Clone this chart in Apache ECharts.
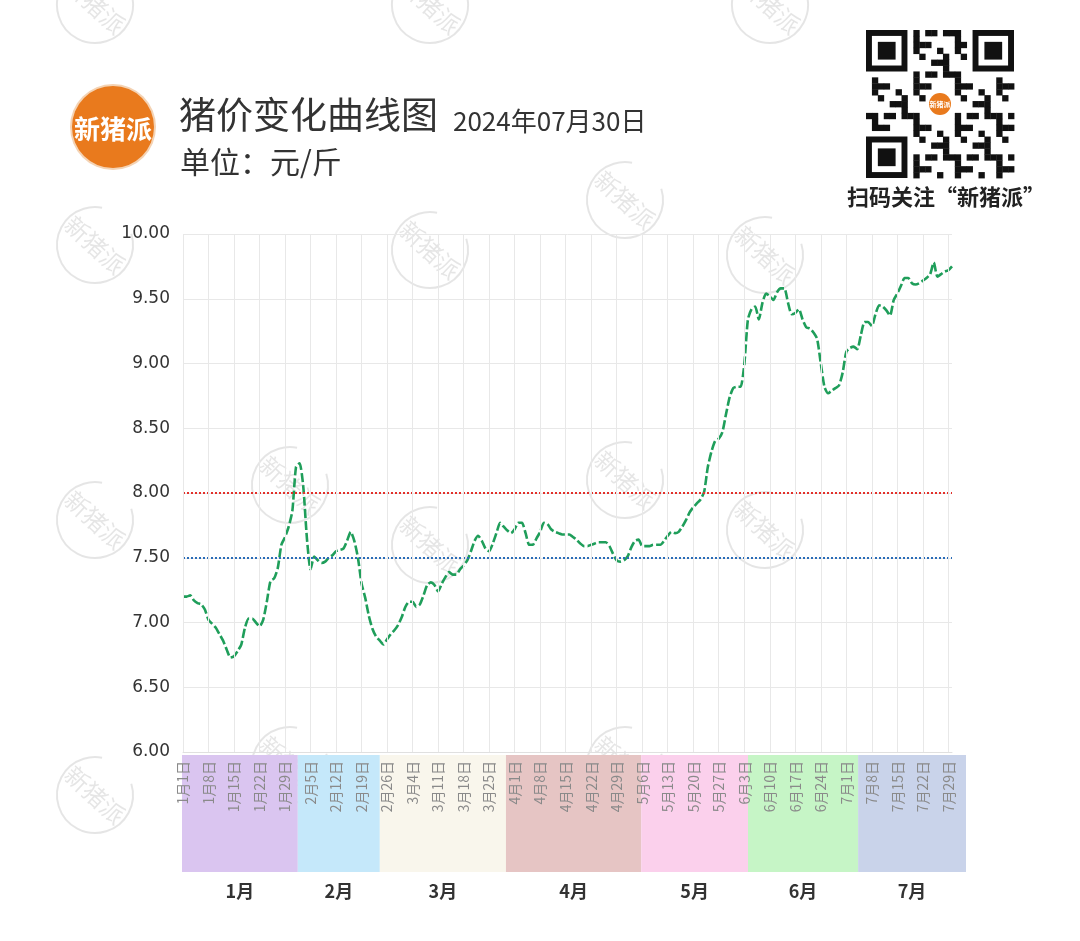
<!DOCTYPE html>
<html>
<head>
<meta charset="utf-8">
<script src="https://cdn.jsdelivr.net/npm/echarts@6/dist/echarts.min.js"></script>
<style>
html,body{margin:0;padding:0;background:#fff;}
#chart{width:1080px;height:941px;}
</style>
</head>
<body>
<div id="chart"></div>
<script>
// ---- data ----
const categories = [];
(function(){
  for (let i = 0; i < 212; i++) {
    const d = new Date(2024, 0, 1 + i);
    categories.push((d.getMonth() + 1) + '月' + d.getDate() + '日');
  }
})();

const prices = [
  7.20,7.20,7.21,7.17,7.15,7.14,7.10,7.02,6.99,6.96,
  6.91,6.86,6.79,6.73,6.74,6.78,6.83,6.96,7.03,7.03,
  7.00,6.97,7.02,7.16,7.32,7.34,7.42,7.60,7.66,7.74,
  7.86,8.20,8.23,8.05,7.65,7.41,7.51,7.48,7.46,7.47,
  7.50,7.52,7.55,7.56,7.57,7.63,7.70,7.63,7.50,7.30,
  7.19,7.05,6.95,6.89,6.86,6.83,6.87,6.91,6.94,6.98,
  7.04,7.12,7.16,7.16,7.12,7.14,7.21,7.29,7.31,7.29,
  7.24,7.30,7.35,7.39,7.37,7.37,7.41,7.44,7.48,7.55,
  7.63,7.67,7.63,7.57,7.55,7.61,7.69,7.77,7.74,7.71,
  7.69,7.72,7.77,7.77,7.69,7.60,7.60,7.65,7.70,7.77,
  7.76,7.72,7.70,7.69,7.68,7.68,7.68,7.66,7.64,7.61,
  7.59,7.59,7.60,7.61,7.62,7.62,7.62,7.59,7.53,7.48,
  7.47,7.48,7.51,7.58,7.63,7.64,7.59,7.59,7.59,7.60,
  7.60,7.60,7.63,7.67,7.70,7.69,7.70,7.74,7.79,7.85,
  7.89,7.92,7.95,8.01,8.20,8.32,8.40,8.42,8.47,8.61,
  8.74,8.81,8.82,8.82,8.99,9.34,9.42,9.44,9.34,9.47,
  9.54,9.52,9.49,9.55,9.58,9.58,9.47,9.38,9.39,9.42,
  9.34,9.28,9.27,9.24,9.19,9.00,8.82,8.77,8.79,8.81,
  8.83,8.93,9.09,9.12,9.13,9.11,9.22,9.32,9.32,9.29,
  9.38,9.45,9.44,9.41,9.37,9.49,9.54,9.60,9.66,9.66,
  9.62,9.61,9.62,9.64,9.66,9.69,9.78,9.67,9.69,9.71,
  9.72,9.75
];

const refLines = [8.0, 7.5];
const refColors = ['#e3302b', '#2a6cb8'];

const monthLabels = ['1月','2月','3月','4月','5月','6月','7月'];
const bandStart = [-0.27, 31.5, 54.0, 88.6, 125.7, 155.0, 185.2];
const bandEnd   = [31.5, 54.0, 88.6, 125.7, 155.0, 185.2, 214.8];
const bandColors = ['#dac5f0','#c5e8fa','#f9f6ec','#e6c5c4','#fbd0ec','#c6f5c6','#c9d3ea'];

const CJK = '"Noto Sans CJK SC", "Noto Sans", sans-serif';

// ---- decorations ----
const graphics = [];

// watermarks
const wmPos = [[95,5],[430,5],[770,5],[625,200],[95,245],[430,250],[765,255],
  [290,485],[95,520],[430,545],[625,480],[765,530],[290,765],[95,795],[430,805],[625,765],[765,805]];
wmPos.forEach(p => {
  graphics.push({
    type: 'group', x: p[0], y: p[1], z: 100, silent: true,
    children: [
      { type: 'arc', shape: { cx: 0, cy: 0, r: 38, startAngle: -0.3, endAngle: 4.9 },
        style: { stroke: 'rgba(0,0,0,0.10)', lineWidth: 2, fill: null } },
      { type: 'text', rotation: -0.75,
        style: { text: '新猪派', x: 0, y: 0, align: 'center', verticalAlign: 'middle',
          font: '24px ' + CJK, fill: 'rgba(0,0,0,0.10)' } }
    ]
  });
});

// logo
graphics.push({ type: 'circle', shape: { cx: 113, cy: 127, r: 43 }, style: { fill: '#f4d3b4' } });
graphics.push({ type: 'circle', shape: { cx: 113, cy: 127, r: 41 }, style: { fill: '#e97a1d' } });
graphics.push({ type: 'text', style: { text: '新猪派', x: 113, y: 129, align: 'center', verticalAlign: 'middle',
  font: 'bold 26px ' + CJK, fill: '#ffffff' } });

// title
graphics.push({ type: 'text', style: { text: '猪价变化曲线图', x: 179, y: 115, verticalAlign: 'middle',
  font: '37px ' + CJK, fill: '#333333' } });
graphics.push({ type: 'text', style: { text: '2024年07月30日', x: 453, y: 121, verticalAlign: 'middle',
  font: '26px ' + CJK, fill: '#333333' } });
graphics.push({ type: 'text', style: { text: '单位：元/斤', x: 180, y: 162, verticalAlign: 'middle',
  font: '30px ' + CJK, fill: '#333333' } });

// QR code (stylised)
(function(){
  const x0 = 866, y0 = 30, n = 25, m = 148 / 25;
  const finder = (fx, fy) => {
    graphics.push({ type: 'rect', shape: { x: x0 + fx*m, y: y0 + fy*m, width: 7*m, height: 7*m }, style: { fill: '#111' } });
    graphics.push({ type: 'rect', shape: { x: x0 + (fx+1)*m, y: y0 + (fy+1)*m, width: 5*m, height: 5*m }, style: { fill: '#fff' } });
    graphics.push({ type: 'rect', shape: { x: x0 + (fx+2)*m, y: y0 + (fy+2)*m, width: 3*m, height: 3*m }, style: { fill: '#111' } });
  };
  for (let i = 0; i < n; i++) {
    for (let j = 0; j < n; j++) {
      const inF = (i < 8 && j < 8) || (i < 8 && j > n - 9) || (i > n - 9 && j < 8);
      const inC = i >= 10 && i <= 14 && j >= 10 && j <= 14;
      if (inF || inC) continue;
      if (((i * i * 3 + j * 7 + i * j * 5 + j * j) % 7) < 3) {
        graphics.push({ type: 'rect', shape: { x: x0 + j*m, y: y0 + i*m, width: m + 0.4, height: m + 0.4 }, style: { fill: '#111' } });
      }
    }
  }
  finder(0, 0); finder(n - 7, 0); finder(0, n - 7);
  graphics.push({ type: 'circle', shape: { cx: x0 + 12.5*m, cy: y0 + 12.5*m, r: 13 }, style: { fill: '#fff' } });
  graphics.push({ type: 'circle', shape: { cx: x0 + 12.5*m, cy: y0 + 12.5*m, r: 11 }, style: { fill: '#e97a1d' } });
  graphics.push({ type: 'text', style: { text: '新猪派', x: x0 + 12.5*m, y: y0 + 12.5*m, align: 'center', verticalAlign: 'middle',
    font: 'bold 7px ' + CJK, fill: '#fff' } });
})();
graphics.push({ type: 'text', style: { text: '扫码关注“新猪派”', x: 946, y: 197, align: 'center', verticalAlign: 'middle',
  font: 'bold 22px ' + CJK, fill: '#222222' } });

// ---- chart ----
const chart = echarts.init(document.getElementById('chart'), null, { renderer: 'canvas' });
chart.setOption({
  backgroundColor: '#ffffff',
  animation: false,
  grid: [
    { left: 183, right: 128, top: 234, bottom: 189 },
    { left: 182, right: 114, top: 755, height: 117 }
  ],
  xAxis: [
    {
      type: 'category', gridIndex: 0, data: categories, boundaryGap: false, z: 10,
      axisLine: { show: true, lineStyle: { color: '#e0e0e0' } },
      axisTick: { show: false },
      axisLabel: { interval: 6, rotate: 90, color: '#8a8a8a', fontSize: 14, margin: 9, fontFamily: CJK },
      splitLine: { show: true, interval: 6, lineStyle: { color: '#e8e8e8', width: 1 } }
    },
    { type: 'value', gridIndex: 1, min: bandStart[0], max: bandEnd[bandEnd.length - 1], show: false }
  ],
  yAxis: [
    {
      type: 'value', gridIndex: 0, min: 6, max: 10, interval: 0.5,
      axisLine: { show: false }, axisTick: { show: false },
      axisLabel: { color: '#333333', fontSize: 17, margin: 13, fontFamily: '"DejaVu Sans", sans-serif',
        formatter: v => v.toFixed(2) },
      splitLine: { lineStyle: { color: '#e8e8e8', width: 1 } }
    },
    { type: 'value', gridIndex: 1, min: 0, max: 1, show: false }
  ],
  graphic: graphics,
  series: [
    {
      type: 'line', xAxisIndex: 0, yAxisIndex: 0, data: prices,
      showSymbol: false, smooth: 0.2, z: 3,
      lineStyle: { color: '#1f9e5a', width: 2.6, type: [9, 3] },
      markLine: {
        silent: true, symbol: 'none', label: { show: false },
        data: refLines.map((v, i) => ({ yAxis: v, lineStyle: { color: refColors[i], type: [2, 2], width: 2 } }))
      }
    },
    {
      type: 'custom', xAxisIndex: 1, yAxisIndex: 1, z: 1, silent: true,
      data: bandStart.map((s, i) => [s, bandEnd[i], i]),
      encode: { x: [0, 1] },
      clip: false,
      renderItem: function (params, api) {
        const i = api.value(2);
        const p0 = api.coord([api.value(0), 1]);
        const p1 = api.coord([api.value(1), 0]);
        return {
          type: 'group',
          children: [
            { type: 'rect', shape: { x: p0[0], y: p0[1], width: p1[0] - p0[0], height: p1[1] - p0[1] },
              style: { fill: bandColors[i] } },
            { type: 'text', style: { text: monthLabels[i], x: (p0[0] + p1[0]) / 2, y: p1[1] + 19,
                align: 'center', verticalAlign: 'middle', font: 'bold 18px ' + CJK, fill: '#333333' } }
          ]
        };
      }
    }
  ]
});
</script>
</body>
</html>
